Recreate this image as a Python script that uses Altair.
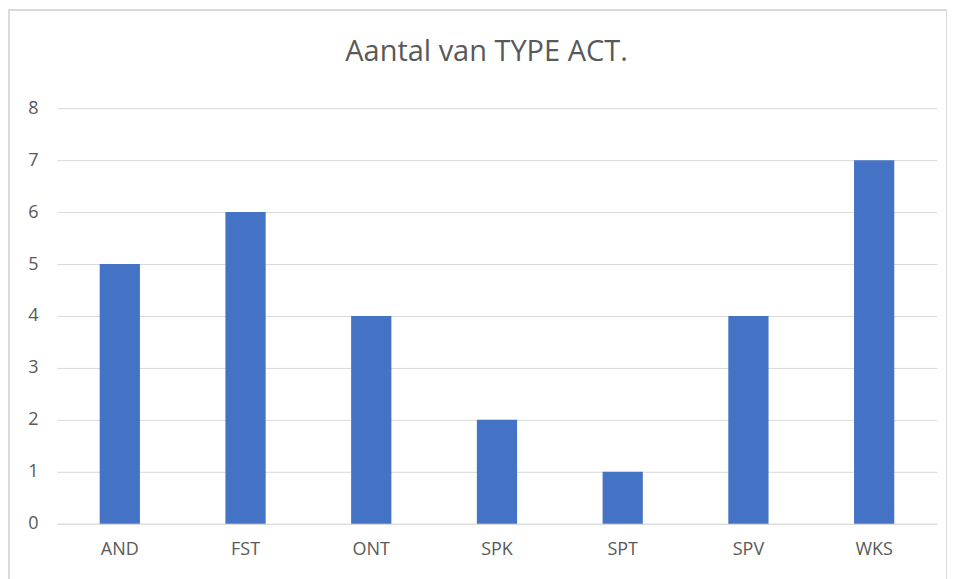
import altair as alt
import pandas as pd

categories = ["AND", "FST", "ONT", "SPK", "SPT", "SPV", "WKS"]
counts = [5, 6, 4, 2, 1, 4, 7]
title_text = "Aantal van TYPE ACT."

df = pd.DataFrame({"type": categories, "count": counts})

FONT = "Open Sans"

bars = alt.Chart(df).mark_bar(color="#4472C4").encode(
    x=alt.X("type:N", sort=categories, title=None,
            scale=alt.Scale(paddingInner=0.68, paddingOuter=0.34),
            axis=alt.Axis(labelAngle=0, labelFontSize=18, labelColor="#595959",
                          labelFont=FONT, labelPadding=17,
                          ticks=False, domainColor="#d9d9d9")),
    y=alt.Y("count:Q", title=None,
            scale=alt.Scale(domain=[0, 8]),
            axis=alt.Axis(values=list(range(9)), labelFontSize=18, labelOverlap=False,
                          labelColor="#595959", labelFont=FONT,
                          labelPadding=19, ticks=False, domain=False,
                          gridColor="#d9d9d9", gridWidth=1)),
)

border = alt.Chart(df).mark_rect(fill=None, stroke="#d9d9d9", strokeWidth=1.5).encode(
    x=alt.value(-48.5), x2=alt.value(891), y=alt.value(-98), y2=alt.value(480)
)

title = alt.Chart(pd.DataFrame({"t": [title_text]})).mark_text(
    fontSize=29, font=FONT, color="#595959", align="center", baseline="middle"
).encode(text="t:N", x=alt.value(430), y=alt.value(-56))

chart = alt.layer(border, bars, title).properties(
    width=881, height=416,
    padding={"left": 49, "top": 100, "right": 10, "bottom": 60},
    autosize=alt.AutoSizeParams(type="none"),
).configure_view(stroke=None)

chart.save("out.html", embed_options={"renderer": "svg", "actions": False})
